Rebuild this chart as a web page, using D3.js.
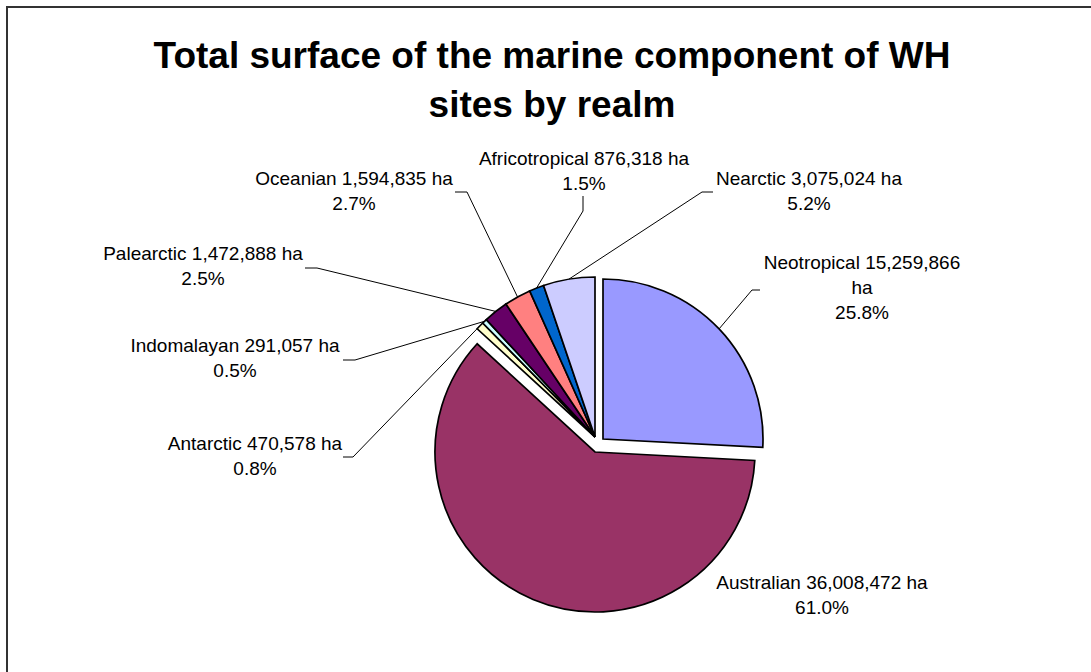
<!DOCTYPE html>
<html lang="en">
<head>
<meta charset="UTF-8"/>
<title>Marine component of WH sites by realm</title>
<script src="https://d3js.org/d3.v7.min.js"></script>
<style>
    body { margin: 0; background: #fff; }
    text { font-family: "Liberation Sans", Arial, sans-serif; fill: #000; }
</style>
</head>
<body>
<script>
    // data, in slice order (clockwise from 12 o'clock)
    var realms = ["Neotropical", "Australian", "Antarctic", "Indomalayan",
                  "Palearctic", "Oceanian", "Africotropical", "Nearctic"];
    var hectares = [15259866, 36008472, 470578, 291057, 1472888, 1594835, 876318, 3075024];
    var percents = ["25.8%", "61.0%", "0.8%", "0.5%", "2.5%", "2.7%", "1.5%", "5.2%"];
    var titleLines = ["Total surface of the marine component of WH", "sites by realm"];

    var colours = ["#9999FF", "#993366", "#FFFFCC", "#CCFFFF",
                   "#660066", "#FF8080", "#0066CC", "#CCCCFF"];

    var w = 1091, h = 672;
    var cx = 595, cy = 437, r = 160;

    // exploded slices are pushed away from the centre
    var explode = { "Neotropical": [8, 2], "Australian": [0, 15] };

    // label placement: centre x, first baseline, and the elbow of the leader line
    var labels = {
        "Neotropical":    { x: 862, y: 269, lines: ["Neotropical 15,259,866", "ha"], elbow: [[760, 290], [752, 290]] },
        "Australian":     { x: 822, y: 589, lines: null, elbow: null },
        "Antarctic":      { x: 255, y: 450, lines: null, elbow: [[343, 457], [353, 457]] },
        "Indomalayan":    { x: 235, y: 352, lines: null, elbow: [[343, 360], [355, 360]] },
        "Palearctic":     { x: 203, y: 260, lines: null, elbow: [[305, 268], [317, 268]] },
        "Oceanian":       { x: 354, y: 185, lines: null, elbow: [[455, 192], [467, 192]] },
        "Africotropical": { x: 584, y: 165, lines: null, elbow: [[583, 196], [583, 211]] },
        "Nearctic":       { x: 809, y: 185, lines: null, elbow: [[713, 192], [702, 192]] }
    };

    var svg = d3.select("body").append("svg")
        .attr("width", w)
        .attr("height", h);

    svg.append("rect")
        .attr("width", w + 20)
        .attr("height", h + 20)
        .attr("fill", "#fff");

    // chart frame, right and bottom edges run off the picture
    svg.append("rect")
        .attr("x", 7).attr("y", 7)
        .attr("width", w + 20).attr("height", h + 20)
        .attr("fill", "none")
        .attr("stroke", "#333")
        .attr("stroke-width", 2);

    svg.append("text")
        .attr("text-anchor", "middle")
        .attr("font-size", 37)
        .attr("font-weight", "bold")
        .selectAll("tspan")
        .data(titleLines)
        .enter()
        .append("tspan")
        .attr("x", 552)
        .attr("y", function(d, i) { return 68 + i * 49; })
        .text(function(d) { return d; });

    var fmt = d3.format(",");
    var data = realms.map(function(name, i) {
        return { name: name, value: hectares[i], pct: percents[i], colour: colours[i] };
    });

    var pie = d3.pie()
        .sort(null)
        .value(function(d) { return d.value; });

    var arc = d3.arc().innerRadius(0).outerRadius(r);

    var slices = pie(data);

    svg.append("g")
        .selectAll("path")
        .data(slices)
        .enter()
        .append("path")
        .attr("transform", function(d) {
            var off = explode[d.data.name] || [0, 0];
            return "translate(" + (cx + off[0]) + "," + (cy + off[1]) + ")";
        })
        .attr("d", arc)
        .attr("fill", function(d) { return d.data.colour; })
        .attr("stroke", "#000")
        .attr("stroke-width", 1.7)
        .attr("stroke-linejoin", "miter");

    // leader lines from the slice edge (mid angle) to the label elbow
    slices.forEach(function(d) {
        var lab = labels[d.data.name];
        if (!lab.elbow) return;
        var off = explode[d.data.name] || [0, 0];
        var a = (d.startAngle + d.endAngle) / 2;
        var px = cx + off[0] + r * Math.sin(a);
        var py = cy + off[1] - r * Math.cos(a);
        var pts = [lab.elbow[0], lab.elbow[1], [px, py]];
        svg.append("path")
            .attr("d", d3.line()(pts))
            .attr("fill", "none")
            .attr("stroke", "#000")
            .attr("stroke-width", 1);
    });

    // labels
    slices.forEach(function(d) {
        var lab = labels[d.data.name];
        var lines = lab.lines || [d.data.name + " " + fmt(d.data.value) + " ha"];
        lines = lines.concat([d.data.pct]);
        svg.append("text")
            .attr("text-anchor", "middle")
            .attr("font-size", 19)
            .selectAll("tspan")
            .data(lines)
            .enter()
            .append("tspan")
            .attr("x", lab.x)
            .attr("y", function(t, i) { return lab.y + i * 25; })
            .text(function(t) { return t; });
    });
</script>
</body>
</html>
